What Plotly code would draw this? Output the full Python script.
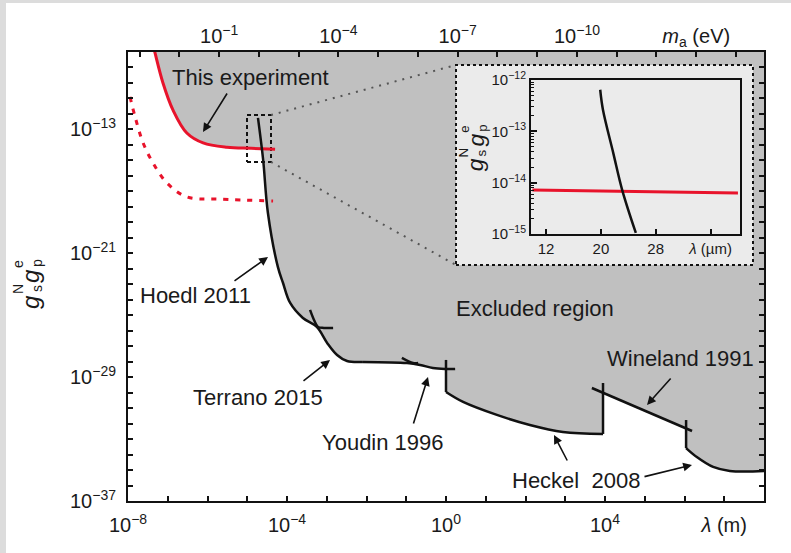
import math
import plotly.graph_objects as go

# ---------------- data (log10 lambda [m], log10 coupling) ----------------
exp_log_lambda = [-7.42, -7.32, -7.12, -6.87, -6.52, -6.11, -5.51, -4.90, -4.30]
exp_log_g = [-7.0, -8.06, -10.0, -11.74, -13.23, -13.87, -14.15, -14.22, -14.28]

proj_log_lambda = [-7.95, -7.82, -7.62, -7.37, -7.02, -6.52, -5.69, -4.35]
proj_log_g = [-10.9, -12.2, -13.87, -15.17, -16.46, -17.36, -17.5, -17.62]

hoedl_log_lambda = [-4.73, -4.60, -4.48, -4.23, -4.10, -3.92, -3.60, -3.25, -2.99, -2.74, -2.49, -2.09]
hoedl_log_g = [-12.26, -14.97, -18.40, -21.88, -22.92, -24.21, -25.18, -25.76, -26.79, -27.57, -27.96, -28.02]

terrano_log_lambda = [-3.42, -3.32, -3.22, -3.07, -2.84]
terrano_log_g = [-24.66, -25.31, -25.76, -25.82, -25.82]

youdin_log_lambda = [-2.09, -0.98, -0.65, -0.33, 0.0, 0.23]
youdin_log_g = [-28.02, -28.09, -28.21, -28.41, -28.47, -28.47]
youdin_tail_log_lambda = [-1.11, -0.83, -0.70]
youdin_tail_log_g = [-27.76, -28.09, -28.09]

heckel1_log_lambda = [0.0, 0.43, 1.28, 2.11, 2.94, 3.95]
heckel1_log_g = [-29.96, -30.60, -31.44, -32.09, -32.54, -32.67]
heckel1_step_a_log_lambda = [0.0, 0.0]
heckel1_step_a_log_g = [-27.89, -29.96]
heckel1_step_b_log_lambda = [3.95, 3.95]
heckel1_step_b_log_g = [-32.67, -29.38]

wineland_log_lambda = [3.67, 6.19]
wineland_log_g = [-29.70, -32.48]

heckel2_step_log_lambda = [6.04, 6.04]
heckel2_step_log_g = [-31.77, -33.58]
heckel2_log_lambda = [6.04, 6.31, 6.72, 7.14, 8.03]
heckel2_log_g = [-33.58, -34.16, -34.80, -35.06, -35.06]

excluded_edge_log_lambda = [-7.42, -7.32, -7.12, -6.87, -6.52, -6.11, -5.51, -4.90, -4.635,
                            -4.60, -4.48, -4.23, -4.10, -3.92, -3.60, -3.25, -2.99, -2.74,
                            -2.49, -2.09, -0.98, -0.65, -0.33, 0.0, 0.0, 0.43, 1.28, 2.11,
                            2.94, 3.95, 3.95, 6.04, 6.04, 6.31, 6.72, 7.14, 8.5, 8.5]
excluded_edge_log_g = [-7.0, -8.06, -10.0, -11.74, -13.23, -13.87, -14.15, -14.22, -14.24,
                       -14.97, -18.40, -21.88, -22.92, -24.21, -25.18, -25.76, -26.79, -27.57,
                       -27.96, -28.02, -28.09, -28.21, -28.41, -28.47, -29.96, -30.60, -31.44,
                       -32.09, -32.54, -32.67, -30.01, -32.31, -33.58, -34.16, -34.80, -35.06,
                       -35.06, -7.0]

# inset (lambda in micrometres, coupling)
inset_hoedl_lambda_um = [19.9, 20.3, 21.8, 23.1, 25.1]
inset_hoedl_log_g = [-12.19, -12.58, -13.42, -14.14, -14.98]
inset_exp_lambda_um = [10, 20, 30, 40]
inset_exp_g = [7.2e-15, 6.9e-15, 6.6e-15, 6.3e-15]

main_x_labels = {-8: "10<sup>−8</sup>", -4: "10<sup>−4</sup>", 0: "10<sup>0</sup>",
                 4: "10<sup>4</sup>", 7: "<i>λ</i> (m)"}
main_y_labels = {-37: "10<sup>−37</sup>", -29: "10<sup>−29</sup>",
                 -21: "10<sup>−21</sup>", -13: "10<sup>−13</sup>"}
top_labels = {-1: "10<sup>−1</sup>", -4: "10<sup>−4</sup>", -7: "10<sup>−7</sup>",
              -10: "10<sup>−10</sup>", -13: "<i>m</i><sub>a</sub> (eV)"}
inset_x_ticks = [12, 20, 28, 36]
inset_x_labels = ["12", "20", "28", "<i>λ</i> (µm)"]
inset_y_exps = [-15, -14, -13, -12]

HBARC = 1.973e-7  # eV m

# ---------------- layout geometry ----------------
W, H = 791, 553
L, R, T, B = 128, 764, 52, 501
XR = [-8, 8]
YR = [-37, -8]
FONT = "Liberation Sans, Arial, Helvetica, sans-serif"
BLACK = "#111111"
TXT = "#1a1a1a"
RED = "#e8132b"


def px2lx(px):
    return XR[0] + (px - L) / (R - L) * (XR[1] - XR[0])


def py2ly(py):
    return YR[0] + (B - py) / (B - T) * (YR[1] - YR[0])


def paper(px, py):
    return (px - L) / (R - L), (B - py) / (B - T)


def pw(v):
    return [10 ** a for a in v]


def line(loglam, logg, color=BLACK, width=2.5, shape="linear", dash="solid"):
    return go.Scatter(x=pw(loglam), y=pw(logg), mode="lines", hoverinfo="skip",
                      showlegend=False,
                      line=dict(color=color, width=width, shape=shape, dash=dash))


fig = go.Figure()

# excluded region
fig.add_trace(go.Scatter(x=pw(excluded_edge_log_lambda), y=pw(excluded_edge_log_g),
                         mode="lines", fill="toself", fillcolor="#c0c0c0",
                         line=dict(width=0, color="#c0c0c0"), hoverinfo="skip",
                         showlegend=False))

# inset frame box (on main axes)
bx0, bx1 = px2lx(456), px2lx(753)
by0, by1 = py2ly(265), py2ly(65)
fig.add_trace(go.Scatter(x=pw([bx0, bx1, bx1, bx0, bx0]), y=pw([by0, by0, by1, by1, by0]),
                         mode="lines", fill="toself", fillcolor="#ebebeb",
                         line=dict(color=BLACK, width=2, dash="3px,3px"),
                         hoverinfo="skip", showlegend=False))

# zoom box = inset ranges
sx0, sx1 = px2lx(247), px2lx(271)
sy0, sy1 = py2ly(162), py2ly(115)
fig.add_trace(go.Scatter(x=pw([sx0, sx1, sx1, sx0, sx0]), y=pw([sy0, sy0, sy1, sy1, sy0]),
                         mode="lines", line=dict(color=BLACK, width=2, dash="4px,3px"),
                         hoverinfo="skip", showlegend=False))
# connectors
for yy in ((sy1, by1), (sy0, by0)):
    fig.add_trace(go.Scatter(x=pw([sx1, bx0]), y=pw(list(yy)), mode="lines",
                             line=dict(color="#555555", width=2, dash="2px,6px"),
                             hoverinfo="skip", showlegend=False))

# curves
fig.add_trace(line(proj_log_lambda, proj_log_g, color=RED, width=3, shape="spline",
                   dash="5px,7px"))
fig.add_trace(line(exp_log_lambda, exp_log_g, color=RED, width=3, shape="spline"))
fig.add_trace(line(hoedl_log_lambda, hoedl_log_g, shape="spline"))
fig.add_trace(line(terrano_log_lambda, terrano_log_g, shape="spline"))
fig.add_trace(line(youdin_log_lambda, youdin_log_g, shape="spline"))
fig.add_trace(line(youdin_tail_log_lambda, youdin_tail_log_g, shape="spline"))
fig.add_trace(line(heckel1_step_a_log_lambda, heckel1_step_a_log_g))
fig.add_trace(line(heckel1_log_lambda, heckel1_log_g, shape="spline"))
fig.add_trace(line(heckel1_step_b_log_lambda, heckel1_step_b_log_g))
fig.add_trace(line(wineland_log_lambda, wineland_log_g))
fig.add_trace(line(heckel2_step_log_lambda, heckel2_step_log_g))
fig.add_trace(line(heckel2_log_lambda, heckel2_log_g, shape="spline"))

# invisible trace for top axis
fig.add_trace(go.Scatter(x=[1e-5], y=[1e-30], xaxis="x2", yaxis="y", mode="markers",
                         marker=dict(opacity=0), hoverinfo="skip", showlegend=False))

# inset traces
fig.add_trace(go.Scatter(x=inset_exp_lambda_um, y=inset_exp_g, xaxis="x3", yaxis="y3",
                         mode="lines", line=dict(color=RED, width=3),
                         hoverinfo="skip", showlegend=False))
fig.add_trace(go.Scatter(x=inset_hoedl_lambda_um, y=pw(inset_hoedl_log_g), xaxis="x3",
                         yaxis="y3", mode="lines",
                         line=dict(color=BLACK, width=2.5, shape="spline"),
                         hoverinfo="skip", showlegend=False))

# ---------------- axes ----------------
xt = list(range(XR[0], XR[1] + 1))
yt = list(range(YR[0], YR[1] + 1))
mtop = list(range(1, -15, -1))

axis_common = dict(showgrid=False, zeroline=False, ticks="inside", tickcolor=BLACK,
                   linecolor=BLACK, tickfont=dict(size=20, color=TXT, family=FONT))

fig.update_layout(
    xaxis=dict(type="log", range=XR, domain=[0, 1], showline=True, linewidth=2,
               mirror=True, ticklen=5, tickwidth=1.5, ticklabelstandoff=5,
               tickvals=[10 ** k for k in xt],
               ticktext=[main_x_labels.get(k, "") for k in xt], **axis_common),
    yaxis=dict(type="log", range=YR, domain=[0, 1], showline=True, linewidth=2,
               mirror="ticks", ticklen=5, tickwidth=1.5, ticklabelstandoff=6,
               tickvals=[10 ** k for k in yt],
               ticktext=[main_y_labels.get(k, "") for k in yt], **axis_common),
    xaxis2=dict(type="log", overlaying="x", side="top", anchor="y",
                range=[math.log10(HBARC / 1e-8), math.log10(HBARC / 1e8)],
                showline=False, ticklen=5, tickwidth=1.5, ticklabelstandoff=4,
                tickvals=[10 ** k for k in mtop],
                ticktext=[top_labels.get(k, "") for k in mtop], **axis_common),
)

ix0, iy0 = paper(531, 234)
ix1, iy1 = paper(740, 80)
inset_common = dict(showgrid=False, zeroline=False, ticks="inside", tickcolor=BLACK,
                    linecolor=BLACK, showline=True, linewidth=2, mirror=True,
                    tickfont=dict(size=15, color=TXT, family=FONT))
minor_vals = [m * 10 ** e for e in [-15, -14, -13] for m in range(2, 10)]
fig.update_layout(
    xaxis3=dict(domain=[ix0, ix1], anchor="y3", range=[9.8, 40.3], tickvals=inset_x_ticks,
                ticktext=inset_x_labels, ticklen=5, tickwidth=1.5, **inset_common),
    yaxis3=dict(domain=[iy0, iy1], anchor="x3", type="log", range=[-15, -12],
                tickvals=[10 ** e for e in inset_y_exps],
                ticktext=["10<sup>−%d</sup>" % -e for e in inset_y_exps],
                ticklen=6, tickwidth=1.5,
                minor=dict(ticks="inside", ticklen=3, tickwidth=1.2, tickcolor=BLACK,
                           tickvals=minor_vals),
                **inset_common),
)

# ---------------- annotations ----------------
ann = []


def text(s, px, py, size=22, angle=0):
    x, y = paper(px, py)
    ann.append(dict(x=x, y=y, xref="paper", yref="paper", text=s, showarrow=False,
                    xanchor="center", yanchor="middle", textangle=angle,
                    font=dict(size=size, color=TXT, family=FONT)))


def arrow(tail, head):
    x, y = paper(*head)
    ann.append(dict(x=x, y=y, xref="paper", yref="paper", text="", showarrow=True,
                    ax=tail[0] - head[0], ay=tail[1] - head[1], arrowhead=2,
                    arrowsize=1.1, arrowwidth=1.6, arrowcolor=BLACK, standoff=0))


def coupling_title(cx, cy, scale=1.0):
    # g_s^N g_p^e, rotated, with stacked sub/superscripts
    big, small = 24 * scale, 14 * scale
    text("<i>g</i>", cx, cy + 16 * scale, size=big, angle=-90)
    text("s", cx + 7 * scale, cy + 3 * scale, size=small, angle=-90)
    text("N", cx - 12 * scale, cy + 3 * scale, size=small, angle=-90)
    text("<i>g</i>", cx, cy - 10 * scale, size=big, angle=-90)
    text("p", cx + 7 * scale, cy - 23 * scale, size=small, angle=-90)
    text("e", cx - 12 * scale, cy - 22 * scale, size=small, angle=-90)


text("This experiment", 250, 77)
text("Excluded region", 535, 308)
text("Hoedl 2011", 195, 295)
text("Terrano 2015", 258, 397)
text("Youdin 1996", 383, 442)
text("Heckel\u00a0 2008", 576, 480)
text("Wineland 1991", 680, 358)
coupling_title(30, 286)
coupling_title(475, 150, scale=0.95)

arrow((228, 92), (203, 132))
arrow((233, 282), (268, 257))
arrow((302, 382), (330, 360))
arrow((413, 425), (428, 377))
arrow((568, 462), (554, 435))
arrow((643, 477), (692, 465))
arrow((672, 377), (647, 405))

# outer grey border strips
shapes = []
gx0, gyt = paper(0, 0)
gx1, _ = paper(6, 0)
_, gyb = paper(0, H)
_, gy3 = paper(0, 3)
shapes.append(dict(type="rect", xref="paper", yref="paper", x0=gx0, x1=gx1, y0=gyb, y1=gyt,
                   fillcolor="#dcdcdc", line=dict(width=0), layer="below"))
shapes.append(dict(type="rect", xref="paper", yref="paper", x0=gx0, x1=paper(W, 0)[0],
                   y0=gy3, y1=gyt, fillcolor="#dcdcdc", line=dict(width=0), layer="below"))

fig.update_layout(
    width=W, height=H, margin=dict(l=L, r=W - R, t=T, b=H - B, pad=0),
    paper_bgcolor="white", plot_bgcolor="rgba(0,0,0,0)",
    annotations=ann, shapes=shapes, showlegend=False,
    font=dict(family=FONT, color=TXT),
)

fig.write_html("out.html")
